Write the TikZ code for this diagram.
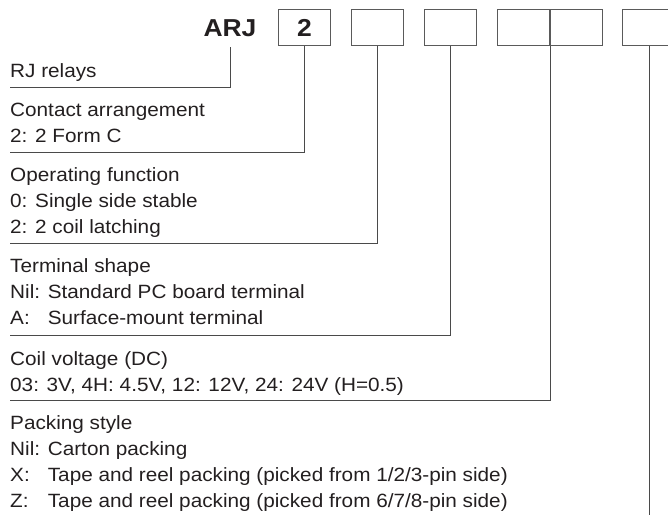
\documentclass[tikz,border=0pt]{standalone}
\usepackage{fontspec}
\setmainfont{Liberation Sans}
\usepackage{tikz}
\usetikzlibrary{calc}
\definecolor{Ink}{HTML}{231F20}
\definecolor{Frame}{HTML}{5A5A5A}
\definecolor{Lead}{HTML}{4A4A4A}
\newlength\keywd
\newcommand\optkey[1]{\settowidth\keywd{Nil: }\makebox[\keywd][l]{#1}}

\begin{document}
\begin{tikzpicture}[x=1pt,y=-1pt]
    \tikzset{lbl/.style={anchor=base west,inner sep=0pt,xscale=1.08,
      font=\fontsize{19.2}{23}\selectfont,text=Ink},
      code/.style={inner sep=0pt,xscale=1.08,font=\fontsize{24.5}{28}\selectfont\bfseries,text=Ink},
      slot/.style={draw=Frame,line width=1pt,minimum width=52.4pt,minimum height=36.4pt,inner sep=0pt},
      lead/.style={draw=Lead,line width=1pt}}
    \useasboundingbox (0,0) rectangle (668,514);

    % part number
    \node[code,anchor=base] (arj) at (230,36.7) {ARJ};
    \foreach \x/\id in {304.5/b1,377.5/b2,450.5/b3,523.7/b4,576.3/b5,649/b6}{
      \node[slot] (\id) at (\x,27.5) {};
    }
    \node[code] (two) at (b1) {2};

    % line ends on the left
    \coordinate (e1) at (10,87.5);
    \coordinate (e2) at (10,152.3);
    \coordinate (e3) at (10,243.7);
    \coordinate (e4) at (10,335.5);
    \coordinate (e5) at (10,400.7);
    \coordinate (e6) at (649,520);

    % RJ relays
    \node[lbl] (rj) at (10,77.3) {RJ relays};
    \draw[lead] ([yshift=-10pt]arj.south) |- (e1);

    % Contact arrangement
    \node[lbl] (contact) at (10,116.5) {Contact arrangement};
    \node[lbl] (contact2) at (10,142.2) {2: 2 Form C};
    \draw[lead] (b1.south) |- (e2);

    % Operating function
    \node[lbl] (oper) at (10,181.6) {Operating function};
    \node[lbl] (oper0) at (10,207.5) {0: Single side stable};
    \node[lbl] (oper2) at (10,233.3) {2: 2 coil latching};
    \draw[lead] (b2.south) |- (e3);

    % Terminal shape
    \node[lbl] (term) at (10,272.7) {Terminal shape};
    \node[lbl] (termnil) at (10,298.5) {Nil: Standard PC board terminal};
    \node[lbl] (terma) at (10,324.7) {\optkey{A:}Surface-mount terminal};
    \draw[lead] (b3.south) |- (e4);

    % Coil voltage
    \node[lbl] (coil) at (10,365.7) {Coil voltage (DC)};
    \node[lbl] (coilv) at (10,391.7) {03: 3V, 4H: 4.5V, 12: 12V, 24: 24V (H=0.5)};
    \draw[lead] (b4.south east) |- (e5);

    % Packing style
    \node[lbl] (pack) at (10,429.8) {Packing style};
    \node[lbl] (packnil) at (10,455.8) {Nil: Carton packing};
    \node[lbl] (packx) at (10,481.7) {\optkey{X:}Tape and reel packing (picked from 1/2/3-pin side)};
    \node[lbl] (packz) at (10,507.5) {\optkey{Z:}Tape and reel packing (picked from 6/7/8-pin side)};
    \draw[lead] (b6.south) -- (e6);
  \end{tikzpicture}
\end{document}
